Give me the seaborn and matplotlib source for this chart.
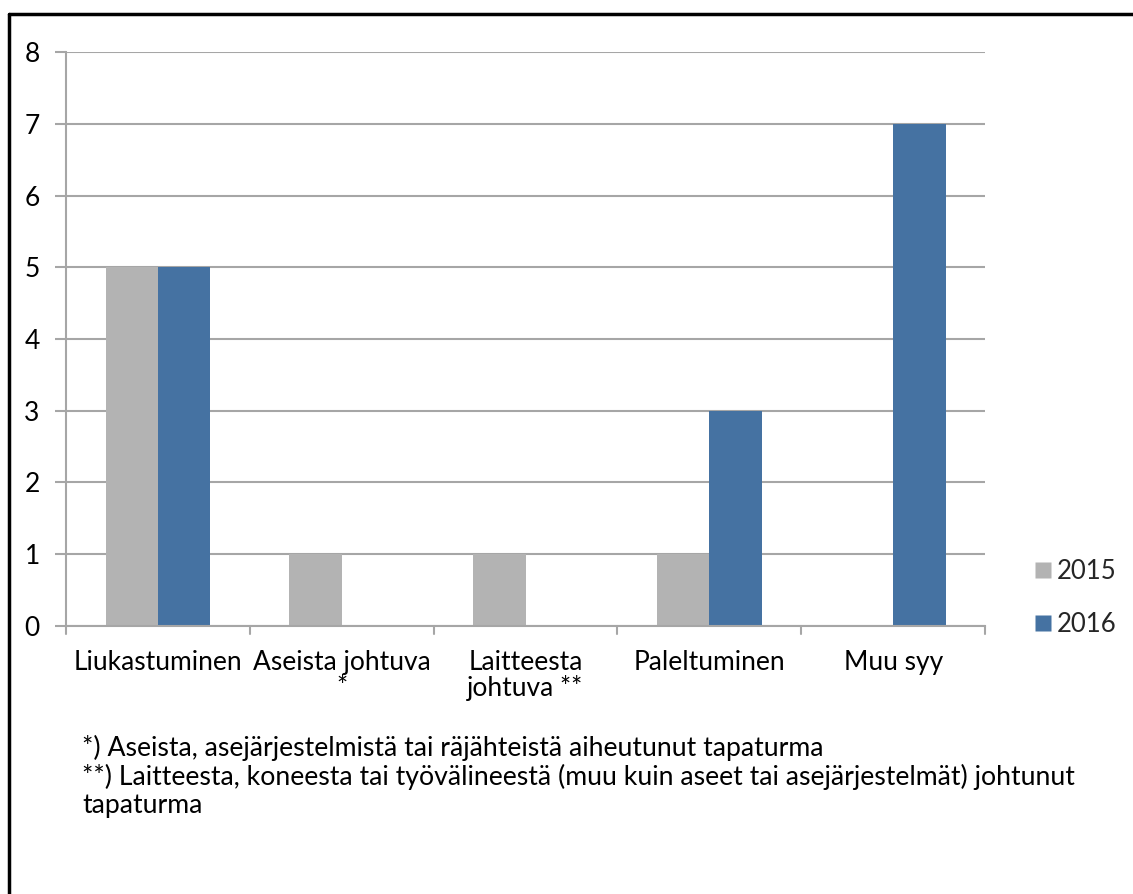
import matplotlib
matplotlib.use("Agg")
import matplotlib.pyplot as plt
from matplotlib.lines import Line2D
import seaborn as sns
import pandas as pd

categories = ["Liukastuminen", "Aseista johtuva\n*", "Laitteesta\njohtuva **", "Paleltuminen", "Muu syy"]
years = ["2015", "2016"]
values_2015 = [5, 1, 1, 1, 0]
values_2016 = [5, 0, 0, 3, 7]
y_ticks = [0, 1, 2, 3, 4, 5, 6, 7, 8]
footnotes = [
    "*) Aseista, asejärjestelmistä tai räjähteistä aiheutunut tapaturma",
    "**) Laitteesta, koneesta tai työvälineestä (muu kuin aseet tai asejärjestelmät) johtunut",
    "tapaturma",
]

colors = {"2015": "#b3b3b3", "2016": "#4572a2"}
grid_color = "#a6a6a6"

df = pd.DataFrame({
    "category": categories * 2,
    "year": [years[0]] * len(categories) + [years[1]] * len(categories),
    "value": values_2015 + values_2016,
})

sns.set_theme(style="white")
plt.rcParams["font.family"] = ["Lato", "DejaVu Sans"]

fig = plt.figure(figsize=(11.33, 8.94), dpi=100)
ax = fig.add_axes([0.0583, 0.2998, 0.8111, 0.642])

sns.barplot(data=df, x="category", y="value", hue="year", order=categories,
            hue_order=years, palette=colors, width=0.57, saturation=1,
            edgecolor="none", linewidth=0, ax=ax, legend=False, zorder=3)

ax.set_xlim(-0.5, len(categories) - 0.5)
ax.set_ylim(0, 8)
ax.set_yticks(y_ticks)
ax.set_yticklabels([str(t) for t in y_ticks], fontsize=19, color="black")
ax.yaxis.grid(True, color=grid_color, linewidth=1.5, zorder=0)
ax.set_axisbelow(True)
ax.set_xlabel("")
ax.set_ylabel("")

for side in ["top", "right"]:
    ax.spines[side].set_visible(False)
for side in ["left", "bottom"]:
    ax.spines[side].set_color(grid_color)
    ax.spines[side].set_linewidth(1.5)
    ax.spines[side].set_zorder(4)

# category labels centred under each group, ticks at group boundaries
ax.set_xticks(range(len(categories)))
ax.set_xticklabels(categories, fontsize=19, color="black", linespacing=1.0)
ax.tick_params(axis="x", length=0, pad=17)
for b in [i - 0.5 for i in range(len(categories) + 1)]:
    ax.plot([b, b], [0, -0.11], color=grid_color, lw=1.5, clip_on=False, zorder=4)
ax.tick_params(axis="y", length=8, width=1.5, color=grid_color, pad=11, left=True)

handles = [Line2D([0], [0], marker="s", linestyle="none", markersize=11,
                  markerfacecolor=colors[y], markeredgecolor="none") for y in years]
fig.legend(handles, years, loc="lower left", bbox_to_anchor=(0.8975, 0.273),
           frameon=False, fontsize=18.5, handletextpad=0.05, labelspacing=1.1,
           handlelength=1.0, borderpad=0)

for i, line in enumerate(footnotes):
    fig.text(82 / 1133, 1 - (748 + 29 * i) / 894, line, fontsize=19.2,
             va="center", ha="left", color="black")

# outer frame (top and left edges)
fig.add_artist(Line2D([9 / 1133, 9 / 1133], [0, 1 - 14 / 894], color="black", lw=2.5,
                      transform=fig.transFigure))
fig.add_artist(Line2D([9 / 1133, 1], [1 - 14 / 894, 1 - 14 / 894], color="black", lw=2.5,
                      transform=fig.transFigure))

fig.savefig("out.png", dpi=100, facecolor="white")
